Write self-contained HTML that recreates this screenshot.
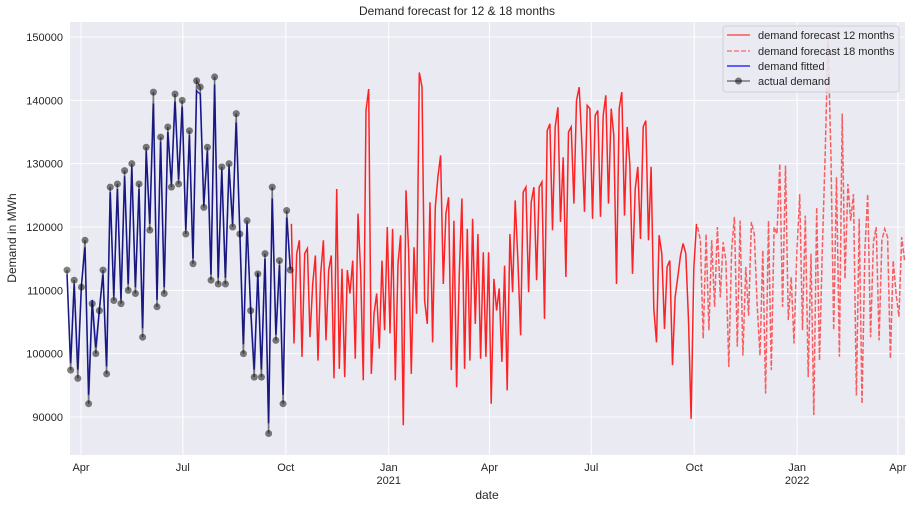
<!DOCTYPE html>
<html><head><meta charset="utf-8"><style>
body{margin:0;background:#fff;}
svg{display:block;font-family:"Liberation Sans",sans-serif;}
</style></head><body>
<svg id="chart" width="913" height="508">
<rect x="70" y="22" width="835" height="433" fill="#EAEAF2"/>
<g id="grid"></g>
<g id="series"></g>
<g id="ticks" font-size="11" fill="#262626"></g>
<text x="457" y="15" text-anchor="middle" font-size="12" fill="#262626">Demand forecast for 12 &amp; 18 months</text>
<text x="487" y="499" text-anchor="middle" font-size="12" fill="#262626">date</text>
<text transform="translate(16,238) rotate(-90)" text-anchor="middle" font-size="12" fill="#262626">Demand in MWh</text>
<g>
<rect x="723" y="26" width="176" height="66" rx="3" fill="#EAEAF2" fill-opacity="0.85" stroke="#d0d0d8"/>
<g><line x1="727" y1="35" x2="750" y2="35" stroke="#ff3030" stroke-opacity="0.8" stroke-width="1.5"/><text x="758" y="39" font-size="11" fill="#262626">demand forecast 12 months</text></g>
<g><line x1="727" y1="51" x2="750" y2="51" stroke="#ff3030" stroke-opacity="0.6" stroke-width="1.5" stroke-dasharray="5,2"/><text x="758" y="55" font-size="11" fill="#262626">demand forecast 18 months</text></g>
<g><line x1="727" y1="66" x2="750" y2="66" stroke="#0000ff" stroke-opacity="0.8" stroke-width="1.5"/><text x="758" y="70" font-size="11" fill="#262626">demand fitted</text></g>
<g><line x1="727" y1="81" x2="750" y2="81" stroke="#000" stroke-opacity="0.5" stroke-width="1.5"/><circle cx="738.5" cy="81" r="3.5" fill="#000" fill-opacity="0.5"/><text x="758" y="85" font-size="11" fill="#262626">actual demand</text></g>
</g>
</svg>
<script>
// values in thousand MWh
const actualValues=[113.2,97.4,111.6,96.1,110.5,117.9,92.1,107.9,100,106.8,113.2,96.8,126.3,108.4,126.8,107.9,128.9,110,130,109.5,126.8,102.6,132.6,119.5,141.3,107.4,134.2,109.5,135.8,126.3,141,126.8,140,118.9,135.2,114.2,143.1,142.1,123.1,132.6,111.6,143.7,111,129.5,111,130,120,137.9,118.9,100,121,106.8,96.3,112.6,96.3,115.8,87.4,126.3,102.1,114.7,92.1,122.6,113.2];
const fittedValues=[112.5,98.5,111,97.5,110.8,116.8,93.5,108.5,101,107,112.5,98,125.5,109,126,108.5,128,111,129.5,110.5,126,104,132,120.5,139.5,108.5,133.5,110.5,135,126.8,139.8,127.5,139,119.5,134.5,115,141.5,141,123.5,132,112.5,142.5,112,129,112,129.5,120.5,136.5,119.5,101.5,120.5,107.5,97.5,112.8,97.5,115,89,124.5,103,114,93.5,121.5,113.5];
const forecast12Values=[120.5,101.6,115.8,117.9,99.5,115.8,116.6,102.6,111,115.5,98.9,112.6,117.9,102.1,113.2,115.5,96.1,126,97.6,113.4,96.3,113.2,109.5,114.7,99.2,122.1,112.6,95.8,138.4,141.8,96.8,106.3,109.5,100.8,114.7,103.7,120,103.2,119.7,95.8,114.2,118.7,88.7,125.8,116.3,96.8,116.8,106.3,144.4,142.1,108.4,104.7,123.9,101.8,123.1,127.9,131.3,111,122.1,124.7,97.4,121,94.7,112.6,124.5,97.6,119.7,98.9,121.3,104.7,118.9,99.2,116,99.5,116,92.1,111.8,106.8,110.3,98.7,113.9,94.2,118.9,109.7,124.2,114.7,102.9,125.5,126.3,109.7,123.9,126.3,111.6,126.3,127.1,105.5,135.2,136.3,119.5,135.8,138.9,120.8,131,112.1,135,135.8,123.7,140,142.1,133.1,122.4,139.2,138.7,121.3,137.6,138.4,121.6,137.6,140.8,123.7,138.7,134.5,111,138.7,141.3,121.8,135.8,130,112.6,126,129.5,118.1,135.8,136.8,117.9,129.5,107.1,101.8,118.7,115.8,103.9,113.7,114.7,98.2,108.9,112.1,115.5,117.4,115.8,105.3,89.7,113.4,120.5];
const forecast18Values=[120,117.9,102.4,118.9,103.7,117.9,107.4,120,108.9,117.6,114.7,97.9,116.3,121.6,101.1,121,99.7,113.7,106,120.8,118.9,107.9,99.7,116.3,93.7,121,97.4,120,118.9,130,107.4,129.7,105.3,112.1,101.6,115.8,125.2,103.7,121.8,96.3,115.8,90.3,123.1,98.9,116.3,131.6,149.4,131.6,103.7,127.9,99.5,137.9,111.8,126.8,121,125.2,93.4,121.3,92.1,116.3,125.2,102.6,117.6,120,102.1,117.9,119.7,118.4,99.2,114.7,109.5,105.8,118.4,114.7];
// series spans in days since 2020-04-01
const actualSpan=[-12.5,187];
const forecast12Span=[188,550];
const forecast18Span=[551,736];
const yTicks=[90000,100000,110000,120000,130000,140000,150000];
const xTickDays=[0,91,183,275,365,456,548,640,730];
const xTickLabels=["Apr","Jul","Oct","Jan","Apr","Jul","Oct","Jan","Apr"];
const xTickYears=["","","","2021","","","","2022",""];

const NS="http://www.w3.org/2000/svg";
function xs(d){return 81+d*1.119;}
function ys(v){return 417-(v-90000)*0.006333;}
function mk(tag,attrs,parent){const e=document.createElementNS(NS,tag);for(const k in attrs)e.setAttribute(k,attrs[k]);parent.appendChild(e);return e;}
const grid=document.getElementById('grid'),ticks=document.getElementById('ticks'),series=document.getElementById('series');
yTicks.forEach(t=>{
  const l=mk('line',{x1:70,x2:905,y1:ys(t),y2:ys(t),stroke:'#fff','stroke-width':1},grid);
  
  
  const tx=mk('text',{x:63,y:ys(t)+4,'text-anchor':'end'},ticks);
  tx.textContent=String(t);
  
  
});
xTickDays.forEach((d,i)=>{
  const l=mk('line',{x1:xs(d),x2:xs(d),y1:22,y2:455,stroke:'#fff','stroke-width':1},grid);
  
  
  const tx=mk('text',{x:xs(d),y:471,'text-anchor':'middle'},ticks);
  tx.textContent=xTickLabels[i];
  
  
  if(xTickYears[i]){
    const ty=mk('text',{x:xs(d),y:484,'text-anchor':'middle'},ticks);
    ty.textContent=xTickYears[i];
    
    
  }
});
function pts(vals,span){const n=vals.length,st=(span[1]-span[0])/(n-1);return vals.map((v,i)=>[xs(span[0]+i*st),ys(v*1000)]);}
function path(p){return p.map((q,i)=>(i?'L':'M')+q[0].toFixed(1)+' '+q[1].toFixed(1)).join('');}
const f12=mk('path',{d:path(pts(forecast12Values,forecast12Span)),fill:'none',stroke:'#ff0000','stroke-opacity':0.85,'stroke-width':1.5},series);


const f18=mk('path',{d:path(pts(forecast18Values,forecast18Span)),fill:'none',stroke:'#ff0000','stroke-opacity':0.6,'stroke-width':1.5,'stroke-dasharray':'5,2'},series);


const fl=mk('path',{d:path(pts(fittedValues,actualSpan)),fill:'none',stroke:'#0000ff','stroke-opacity':0.8,'stroke-width':1.5},series);


const ap=pts(actualValues,actualSpan);
const al=mk('path',{d:path(ap),fill:'none',stroke:'#000','stroke-opacity':0.5,'stroke-width':1.5},series);


ap.forEach(q=>{
  const c=mk('circle',{cx:q[0],cy:q[1],r:3.5,fill:'#000','fill-opacity':0.5},series);
  
  
});
</script>
</body></html>
